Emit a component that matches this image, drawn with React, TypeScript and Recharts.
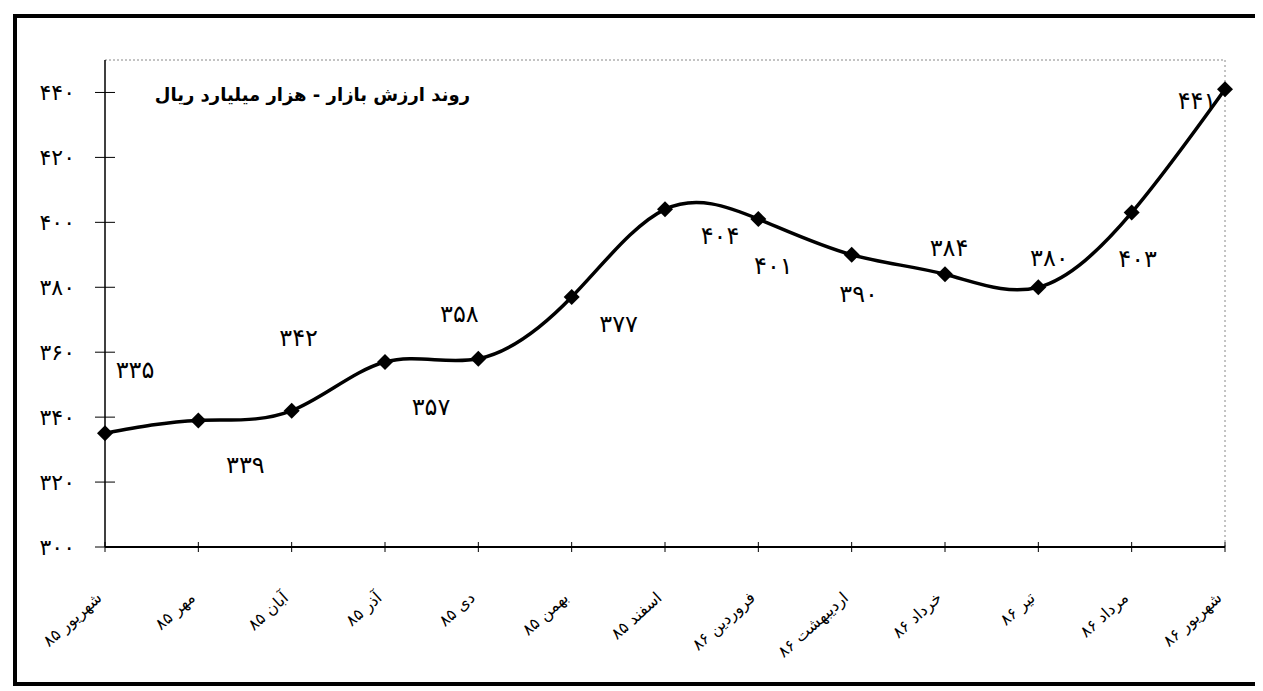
import { LineChart, Line, XAxis, YAxis, ReferenceLine } from "recharts";

const MONTHS = [
  "شهریور ۸۵",
  "مهر ۸۵",
  "آبان ۸۵",
  "آذر ۸۵",
  "دی ۸۵",
  "بهمن ۸۵",
  "اسفند ۸۵",
  "فروردین ۸۶",
  "اردیبهشت ۸۶",
  "خرداد ۸۶",
  "تیر ۸۶",
  "مرداد ۸۶",
  "شهریور ۸۶",
];

const MARKET_VALUE = [335, 339, 342, 357, 358, 377, 404, 401, 390, 384, 380, 403, 441];

const Y_TICKS = [300, 320, 340, 360, 380, 400, 420, 440];

const TITLE = "روند ارزش بازار - هزار میلیارد ریال";

// where each value label sits relative to its point (dx, dy)
const LABEL_OFFSETS: [number, number][] = [
  [30, -64],
  [47, 44],
  [7, -73],
  [46, 45],
  [-19, -45],
  [47, 27],
  [55, 26],
  [15, 47],
  [7, 39],
  [4, -27],
  [11, -30],
  [6, 46],
  [-28, 11],
];

const FONT = "'DejaVu Sans', sans-serif";

const toFa = (v: number | string) =>
  String(v).replace(/\d/g, (d) => "۰۱۲۳۴۵۶۷۸۹"[Number(d)]);

const data = MONTHS.map((m, i) => ({ month: m, value: MARKET_VALUE[i] }));

const YTick = ({ x, y, payload }: any) => (
  <g>
    <line x1={x - 10} x2={x + 10} y1={y} y2={y} stroke="#000" strokeWidth={1} />
    <text
      x={x - 30}
      y={y}
      dy="0.35em"
      textAnchor="end"
      fontFamily={FONT}
      fontSize={22}
      fill="#000"
    >
      {toFa(payload.value)}
    </text>
  </g>
);

const XTick = ({ x, y, payload }: any) => (
  <g>
    <line x1={x} x2={x} y1={y - 5} y2={y + 5} stroke="#000" strokeWidth={1} />
    <g transform={`translate(${x - 6},${y + 48}) rotate(-42)`}>
      <text
        x={0}
        y={0}
        dy="0.35em"
        textAnchor="end"
        fontFamily={FONT}
        fontSize={16}
        fill="#000"
      >
        {payload.value}
      </text>
    </g>
  </g>
);

const Diamond = ({ cx, cy, index }: any) => (
  <polygon
    key={index}
    points={`${cx},${cy - 8} ${cx + 8},${cy} ${cx},${cy + 8} ${cx - 8},${cy}`}
    fill="#000"
  />
);

const ValueLabel = ({ x, y, value, index }: any) => {
  const [dx, dy] = LABEL_OFFSETS[index] || [0, -20];
  return (
    <text
      key={index}
      x={x + dx}
      y={y + dy}
      dy="0.35em"
      textAnchor="middle"
      fontFamily={FONT}
      fontSize={24}
      fill="#000"
    >
      {toFa(value)}
    </text>
  );
};

export default function App() {
  return (
    <div
      style={{
        position: "relative",
        width: 1263,
        height: 691,
        margin: "-8px 0 0 -8px",
        background: "#fff",
        overflow: "hidden",
      }}
    >
      <div
        style={{
          position: "absolute",
          left: 13,
          top: 14,
          width: 1300,
          height: 664,
          borderLeft: "4px solid #000",
          borderTop: "4px solid #000",
          borderBottom: "4px solid #000",
        }}
      />
      <LineChart
        width={1263}
        height={691}
        data={data}
        margin={{ top: 60, right: 38, bottom: 0, left: 0 }}
      >
        <XAxis
          dataKey="month"
          height={144}
          tick={<XTick />}
          tickLine={false}
          tickSize={0}
          tickMargin={0}
          interval={0}
          stroke="#000"
          strokeWidth={2}
        />
        <YAxis
          width={105}
          domain={[300, 450]}
          ticks={Y_TICKS}
          tick={<YTick />}
          tickLine={false}
          tickSize={0}
          tickMargin={0}
          stroke="#000"
          strokeWidth={1.5}
        />
        <ReferenceLine y={450} stroke="#888" strokeDasharray="2 2" />
        <ReferenceLine x="شهریور ۸۶" stroke="#888" strokeDasharray="2 3" />
        <Line
          dataKey="value"
          type="natural"
          stroke="#000"
          strokeWidth={3.5}
          dot={<Diamond />}
          activeDot={false}
          label={<ValueLabel />}
          isAnimationActive={false}
        />
      </LineChart>
      <div
        style={{
          position: "absolute",
          left: 140,
          top: 84,
          width: 330,
          textAlign: "right",
          direction: "rtl",
          fontFamily: FONT,
          fontWeight: "bold",
          fontSize: 18,
          color: "#000",
          whiteSpace: "nowrap",
        }}
      >
        {TITLE}
      </div>
    </div>
  );
}
